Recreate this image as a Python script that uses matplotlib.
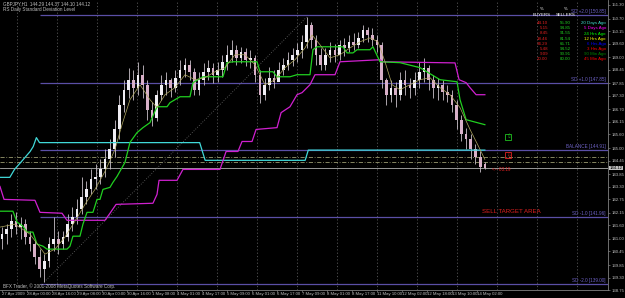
import numpy as np
import matplotlib
matplotlib.use("Agg")
import matplotlib.pyplot as plt
import matplotlib.transforms as mtransforms

# narrow font, like the tiny MT4 labels
plt.rcParams["font.family"] = ["Liberation Sans Narrow", "Liberation Sans", "DejaVu Sans"]

# ======================
# DATA  (GBPJPY H1, one candle per 3 hours)
# ======================
opens = [140.99, 141.21, 141.43, 141.78, 141.52, 141.65, 141.08, 140.77, 140.20, 139.67,
         140.02, 140.77, 140.99, 140.77, 141.08, 141.65, 141.95, 142.30, 142.83, 143.18,
         143.62, 143.71, 144.06, 144.50, 144.94, 145.82, 146.91, 147.57, 148.01, 147.66,
         148.23, 147.79, 146.69, 146.34, 147.35, 147.79, 148.01, 147.66, 148.10, 148.45,
         148.67, 148.36, 147.57, 148.01, 148.36, 148.54, 148.23, 148.45, 148.80, 149.11,
         149.33, 148.97, 149.24, 148.89, 148.97, 148.23, 147.35, 147.79, 148.10, 147.92,
         148.45, 148.67, 148.89, 149.11, 149.33, 149.68, 150.42, 149.76, 149.11, 148.67,
         149.11, 149.33, 149.11, 149.55, 149.41, 149.68, 149.55, 149.85, 150.20, 149.98,
         149.76, 149.55, 148.01, 147.35, 147.66, 147.35, 148.01, 147.79, 147.66, 148.01,
         148.36, 148.54, 148.01, 147.66, 147.79, 147.48, 147.35, 146.91, 146.25, 145.60,
         145.38, 144.94, 144.59, 144.29]
closes = [141.21, 141.43, 141.78, 141.52, 141.65, 141.08, 140.77, 140.20, 139.67, 140.02,
          140.77, 140.99, 140.77, 141.08, 141.65, 141.95, 142.30, 142.83, 143.18, 143.62,
          143.71, 144.06, 144.50, 144.94, 145.82, 146.91, 147.57, 148.01, 147.66, 148.23,
          147.79, 146.69, 146.34, 147.35, 147.79, 148.01, 147.66, 148.10, 148.45, 148.67,
          148.36, 147.57, 148.01, 148.36, 148.54, 148.23, 148.45, 148.80, 149.11, 149.33,
          148.97, 149.24, 148.89, 148.97, 148.23, 147.35, 147.79, 148.10, 147.92, 148.45,
          148.67, 148.89, 149.11, 149.33, 149.68, 150.42, 149.76, 149.11, 148.67, 149.11,
          149.33, 149.11, 149.55, 149.41, 149.68, 149.55, 149.85, 150.20, 149.98, 149.76,
          149.55, 148.01, 147.35, 147.66, 147.35, 148.01, 147.79, 147.66, 148.01, 148.36,
          148.54, 148.01, 147.66, 147.79, 147.48, 147.35, 146.91, 146.25, 145.60, 145.38,
          144.94, 144.59, 144.15, 144.12]
highs = [141.52, 141.65, 142.09, 142.17, 141.95, 141.87, 141.34, 140.99, 140.55, 140.33,
         141.08, 141.95, 141.34, 141.34, 142.09, 142.39, 142.74, 143.71, 143.53, 144.06,
         144.28, 144.50, 144.94, 145.38, 146.25, 147.35, 148.01, 148.54, 148.45, 148.80,
         148.67, 148.01, 147.04, 147.57, 148.23, 148.36, 148.10, 148.45, 148.89, 148.97,
         148.89, 148.54, 148.36, 148.76, 148.89, 148.76, 148.80, 149.11, 149.55, 149.76,
         149.55, 149.46, 149.41, 149.33, 149.11, 148.45, 148.10, 148.58, 148.45, 148.80,
         148.97, 149.24, 149.41, 149.63, 149.98, 150.77, 150.55, 149.98, 149.41, 149.41,
         149.68, 149.59, 149.76, 149.85, 149.98, 150.07, 150.12, 150.42, 150.34, 150.29,
         149.98, 149.68, 148.10, 148.01, 147.92, 148.36, 148.45, 148.10, 148.36, 148.80,
         148.97, 148.67, 148.23, 148.10, 148.01, 147.79, 147.57, 147.13, 146.47, 145.90,
         145.60, 145.16, 144.85, 144.37]
lows = [140.55, 140.77, 141.08, 141.21, 140.99, 140.77, 140.46, 139.89, 139.32, 139.10,
        139.76, 140.46, 140.33, 140.55, 140.90, 141.34, 141.65, 142.09, 142.52, 142.96,
        143.18, 143.40, 143.71, 144.06, 144.59, 145.38, 146.61, 147.22, 147.13, 147.35,
        147.22, 146.25, 145.95, 146.17, 147.13, 147.35, 147.26, 147.48, 147.79, 148.14,
        148.01, 147.35, 147.35, 147.79, 148.01, 147.88, 147.92, 148.14, 148.45, 148.80,
        148.67, 148.76, 148.62, 148.54, 147.92, 147.00, 147.13, 147.57, 147.66, 148.10,
        148.23, 148.45, 148.62, 148.80, 148.97, 149.41, 149.41, 148.67, 148.45, 148.45,
        148.80, 148.80, 148.89, 149.06, 149.24, 149.33, 149.41, 149.68, 149.68, 149.50,
        149.24, 147.66, 146.91, 147.04, 146.82, 147.13, 147.35, 147.22, 147.35, 147.66,
        147.92, 147.57, 147.22, 147.13, 147.13, 147.04, 146.61, 145.82, 145.29, 144.94,
        144.50, 144.28, 143.93, 144.10]

# indicator lines (hour index, price)
cyan_h = [-1.3, 5, 8, 12, 18, 20, 22, 24, 126.5, 130, 194, 196, 309]
cyan_p = [143.71, 143.71, 144.06, 144.37, 144.85, 145.07, 145.46, 145.24, 145.24,
          144.46, 144.46, 144.91, 144.91]

magenta_h = [-1.3, 1.3, 21.1, 24.3, 38.4, 41.6, 65.9, 69.1, 73.0, 96.6, 99.2, 100.5,
             112, 115.8, 139.5, 143.4, 151, 153.6, 160, 162.6, 176, 178.6, 184.3,
             188.8, 192, 197.1, 200.3, 213.1, 216.3, 241.9, 243.8, 289.9, 292.5, 297,
             299.5, 303.4, 309]
magenta_p = [143.31, 142.74, 142.70, 142.17, 142.13, 141.82, 141.82, 142.13, 142.52,
             142.57, 142.96, 143.58, 143.58, 144.06, 144.06, 144.85, 144.85, 145.29,
             145.29, 145.82, 145.90, 146.56, 146.82, 147.35, 147.44, 147.79, 148.23,
             148.23, 148.80, 148.89, 148.80, 148.75, 148.01, 147.88, 147.66, 147.35,
             147.35]

green_h = [-1.3, 7.0, 9.6, 13.4, 16, 19.8, 22.4, 26.2, 28.8, 41.6, 43.5, 45.4, 49.9,
           51.8, 54.4, 58.2, 60.8, 62.7, 64.6, 69.1, 71, 73.6, 78.7, 81.9, 86.4, 90.2,
           94.7, 99.2, 105.6, 107.5, 113.9, 120.3, 122.2, 128.6, 141.4, 144, 147.8,
           163.2, 165.1, 173.4, 176, 184.3, 188.8, 197.1, 199, 201.6, 218.2, 220.8,
           224.6, 227.2, 235.5, 237.4, 241.9, 254.7, 267.5, 280.3, 291.2, 293.1, 297, 309]
green_p = [142.22, 142.22, 141.74, 141.56, 141.30, 141.30, 140.77, 140.68, 140.55,
           140.55, 140.68, 141.12, 141.12, 141.65, 142.17, 142.17, 142.74, 142.74,
           143.18, 143.27, 143.49, 143.75, 144.37, 145.25, 145.68, 145.90, 146.12,
           146.82, 146.82, 147.00, 147.26, 147.26, 147.88, 148.14, 148.14, 148.76,
           148.80, 148.80, 148.36, 148.36, 148.14, 148.14, 148.23, 148.23, 149.33,
           149.46, 149.46, 149.19, 149.19, 149.33, 149.33, 149.46, 148.80, 148.76,
           148.54, 148.01, 147.92, 147.13, 146.25, 146.03]

khaki_h = [-1.3, 8.3, 17.9, 27.5, 33.9, 40.3, 46.7, 53.1, 59.5, 65.9, 72.3, 76.8, 81.9,
           88.3, 94.7, 99.2, 104.3, 110.7, 117.1, 123.5, 129.9, 136.3, 142.7, 149.1,
           155.5, 161.9, 168.3, 174.7, 181.1, 187.5, 193.9, 198.4, 203.5, 209.9, 216.3,
           222.7, 229.1, 235.5, 240.6, 245.1, 249.6, 254.7, 261.1, 267.5, 273.9, 280.3,
           286.7, 293.1, 299.5, 305.9, 309]
khaki_p = [141.52, 141.65, 141.21, 140.33, 140.55, 141.08, 141.78, 142.52, 143.18,
           143.97, 144.94, 146.03, 147.13, 147.79, 147.13, 146.78, 147.35, 147.66,
           148.23, 148.01, 148.10, 148.36, 148.54, 149.11, 149.11, 148.67, 147.79,
           148.01, 148.54, 148.89, 149.41, 149.98, 149.55, 148.97, 149.11, 149.41,
           149.68, 149.85, 149.68, 148.80, 147.79, 147.57, 147.79, 148.01, 148.10,
           147.66, 147.35, 146.78, 145.82, 144.94, 144.50]

sd_names = ["SD +2.0", "SD +1.0", "BALANCE", "SD -1.0", "SD -2.0"]
sd_levels = [150.85, 147.85, 144.91, 141.96, 139.00]
fib_levels = [144.59, 144.37]
last_price = 144.12

price_ticks = [151.30, 150.70, 150.15, 149.60, 149.00, 148.45, 147.85, 147.30, 146.70,
               146.15, 145.60, 145.00, 144.45, 143.85, 143.30, 142.75, 142.15, 141.60,
               141.00, 140.45, 139.85, 139.30, 138.75]
time_labels = ["27 Apr 2009", "28 Apr 00:00", "28 Apr 16:00", "29 Apr 08:00",
               "30 Apr 00:00", "30 Apr 16:00", "1 May 08:00", "4 May 01:00",
               "4 May 17:00", "5 May 09:00", "6 May 01:00", "6 May 17:00",
               "7 May 09:00", "8 May 01:00", "8 May 17:00", "11 May 10:00",
               "12 May 02:00", "12 May 18:00", "13 May 10:00", "14 May 02:00"]

periods = ["20 Days Ago", "5 Days Ago", "24 Hrs Ago", "12 Hrs Ago", "6 Hrs Ago",
           "3 Hrs Ago", "90 Min Ago", "45 Min Ago"]
period_colors = ["#40e0d0", "#ff00ff", "#00ff00", "#ffff00", "#0000ff", "#ff0000",
                 "#008000", "#ff0000"]
buyers = [44.10, 5.15, 8.45, 18.46, 34.29, 5.48, 9.09, 20.00]
sellers = [55.90, 94.85, 91.55, 81.54, 65.71, 94.52, 90.91, 80.00]

# ======================
# FIGURE SETUP
# ======================
W, H = 625, 298
fig = plt.figure(figsize=(W / 100, H / 100), dpi=100, facecolor="black")
ax = fig.add_axes([0, 1 - 290 / H, 608 / W, 290 / H])
ax.set_facecolor("black")
X_MAX = 387.8
ax.set_xlim(-1.28, X_MAX)
ax.set_ylim(138.80, 151.52)

GREY = "#c0c0c0"
SD_COL = "#5a4fa6"
FS = 3.1     # tiny MT4 labels
FT = 3.2     # table text


def px(x, y):
    return x / W, 1 - y / H


# grid
for g in np.arange(9.4, X_MAX, 25.6):
    ax.axvline(g, color="#5a5a5a", lw=0.6, ls=(0, (1.5, 2.5)), zorder=0)

# ======================
# LEVELS
# ======================
ax.hlines(sd_levels, 24.3, X_MAX, color=SD_COL, lw=0.9, zorder=1)
for name, lev in zip(sd_names, sd_levels):
    ax.text(386.5, lev + 0.05, f"{name} [{lev:.2f}]", color="#6f63c8",
            fontsize=3.3, ha="right", va="bottom", zorder=5)
for lev in fib_levels:
    ax.axhline(lev, color="#9a9a70", lw=0.6, ls=(0, (5, 2, 1, 2)), zorder=1)
ax.axhline(last_price, color="#b0b0b0", lw=0.6, zorder=1)

# fib / trend line from swing low to swing high
i_lo = int(np.argmin(lows))
i_hi = int(np.argmax(highs))
ax.plot([3 * i_lo, 3 * i_hi], [lows[i_lo], highs[i_hi]], color="#6a6a6a",
        lw=0.6, ls=(0, (1, 2)), zorder=1)

# ======================
# INDICATORS
# ======================
ax.plot(cyan_h, cyan_p, color="#40d8d8", lw=0.9, zorder=3)
ax.plot(magenta_h, magenta_p, color="#d020d0", lw=0.9, zorder=3)
ax.plot(green_h, green_p, color="#20d020", lw=0.9, zorder=3)
ax.plot(khaki_h, khaki_p, color="#b0a860", lw=0.5, zorder=4)

# ======================
# CANDLES
# ======================
hours = np.arange(len(closes)) * 3
o = np.array(opens)
c = np.array(closes)
ax.vlines(hours, lows, highs, color="#c8c0c8", lw=0.6, zorder=2)
bull = c >= o
body_lo = np.minimum(o, c)
body_h = np.maximum(np.abs(c - o), 0.03)
ax.bar(hours[bull], body_h[bull], 1.7, body_lo[bull], color="#f0eef4", lw=0, zorder=2)
ax.bar(hours[~bull], body_h[~bull], 1.7, body_lo[~bull], color="#d8b0c8", lw=0, zorder=2)

# ======================
# AXES
# ======================
for s in ["top", "left"]:
    ax.spines[s].set_visible(False)
ax.spines["right"].set_color("#808080")
ax.spines["bottom"].set_color("#808080")
ax.spines["right"].set_linewidth(0.6)
ax.spines["bottom"].set_linewidth(0.6)
ax.yaxis.tick_right()
ax.set_yticks(price_ticks)
ax.set_yticklabels([f"{v:.2f}" for v in price_ticks])
ax.set_xticks(np.arange(len(time_labels)) * 16)
ax.set_xticklabels(time_labels, ha="left")
ax.tick_params(axis="y", colors="#808080", labelcolor=GREY, labelsize=FS,
               length=1.5, width=0.5, pad=0.8)
ax.tick_params(axis="x", colors="#808080", labelcolor=GREY, labelsize=FS,
               length=1.5, width=0.5, pad=0.3)

trans = mtransforms.blended_transform_factory(ax.transAxes, ax.transData)
ax.text(1.003, last_price, f"{last_price:.2f}", transform=trans, fontsize=FS,
        color="black", va="center", ha="left",
        bbox=dict(facecolor="#c0c0c0", edgecolor="none", pad=0.3), zorder=6)

# ======================
# ANNOTATIONS
# ======================
ax.text(313.6, last_price - 0.08, "<-- 03:19", color="#e02020", fontsize=3.3, va="center")
ax.text(325.8, 142.22, "SELL TARGET AREA", color="#e02020", fontsize=4.4,
        ha="center", va="center")
ax.text(324.0, 145.49, "\u21e7", color="#20c020", fontsize=4.2, ha="center",
        va="center", family="DejaVu Sans",
        bbox=dict(facecolor="none", edgecolor="#20c020", lw=0.6, pad=0.5))
ax.text(324.0, 144.70, "\u21e9", color="#e02020", fontsize=4.2, ha="center",
        va="center", family="DejaVu Sans",
        bbox=dict(facecolor="none", edgecolor="#e02020", lw=0.6, pad=0.5))

fig.text(*px(3, 4), "GBPJPY,H1  144.29 144.37 144.10 144.12", color=GREY,
         fontsize=3.3, va="center")
fig.text(*px(3, 9.5), "RS Daily Standard Deviation Level", color=GREY,
         fontsize=3.3, va="center")
fig.text(*px(3, 286), "BFX Trader, \u00a9 2001-2008 MetaQuotes Software Corp.",
         color=GREY, fontsize=3.3, va="center")

# buyers / sellers table
for xc in (542, 566):
    fig.text(*px(xc, 9), "%", color="white", fontsize=FT, ha="center", va="center")
fig.text(*px(542, 15), "BUYERS", color="white", fontsize=FT, ha="center", va="center")
fig.text(*px(566, 15), "SELLERS", color="white", fontsize=FT, ha="center", va="center")
for k in range(len(periods)):
    y = 23.3 + 5.1 * k
    fig.text(*px(548, y), f"{buyers[k]:.2f}", color="#e02020", fontsize=FT,
             ha="right", va="center")
    fig.text(*px(571, y), f"{sellers[k]:.2f}", color="#20d020", fontsize=FT,
             ha="right", va="center")
    fig.text(*px(606, y), periods[k], color=period_colors[k], fontsize=FT,
             ha="right", va="center")

fig.savefig("out.png", dpi=100, facecolor="black")
